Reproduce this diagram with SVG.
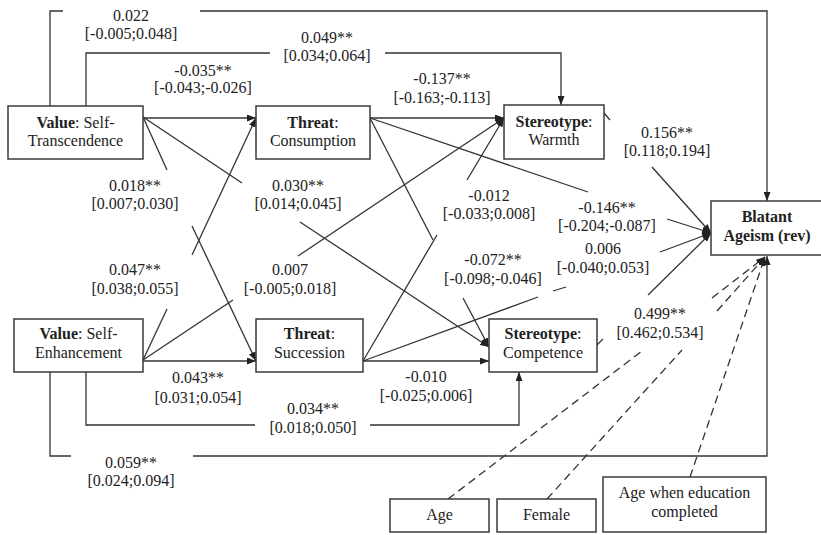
<svg xmlns="http://www.w3.org/2000/svg" width="821" height="535" viewBox="0 0 821 535">
<style>
text{font-family:"Liberation Serif","Times New Roman",serif;font-size:16px;fill:#222;text-anchor:middle}
.b{font-weight:bold}
.box{fill:#fff;stroke:#3a3a3a;stroke-width:1.5}
.c{fill:none;stroke:#333;stroke-width:1.3}
.d{fill:none;stroke:#333;stroke-width:1.3;stroke-dasharray:8 5}
</style>
<defs>
<marker id="ah" markerUnits="userSpaceOnUse" markerWidth="9" markerHeight="7" refX="9" refY="3.5" orient="auto">
<path d="M0,0 L9,3.5 L0,7 z" fill="#222"/>
</marker>
</defs>
<rect width="821" height="535" fill="#fff"/>
<g id="connectors">
<polyline class="c" points="50,106 50,11 63,11"/>
<polyline class="c" points="200,11 767,11 767,201" marker-end="url(#ah)"/>
<polyline class="c" points="86,106 86,53 270,53"/>
<polyline class="c" points="385,53 561,53 561,105" marker-end="url(#ah)"/>
<polyline class="c" points="50,372 50,456 71,456"/>
<polyline class="c" points="193,456 767,456 767,256" marker-end="url(#ah)"/>
<polyline class="c" points="86,372 86,425 255,425"/>
<polyline class="c" points="370,425 519,425 519,372" marker-end="url(#ah)"/>
<line class="c" x1="143" y1="118" x2="256" y2="118" marker-end="url(#ah)"/>
<line class="c" x1="143" y1="117" x2="167" y2="170"/>
<line class="c" x1="192" y1="226" x2="256" y2="361" marker-end="url(#ah)"/>
<line class="c" x1="143" y1="117" x2="242" y2="183"/>
<line class="c" x1="300" y1="222" x2="489" y2="347" marker-end="url(#ah)"/>
<line class="c" x1="143" y1="361" x2="256" y2="361" marker-end="url(#ah)"/>
<line class="c" x1="143" y1="360" x2="167" y2="309"/>
<line class="c" x1="192" y1="255" x2="256" y2="118" marker-end="url(#ah)"/>
<line class="c" x1="143" y1="360" x2="233" y2="300"/>
<line class="c" x1="298" y1="256" x2="504" y2="118" marker-end="url(#ah)"/>
<line class="c" x1="370" y1="118" x2="504" y2="118" marker-end="url(#ah)"/>
<line class="c" x1="370" y1="118" x2="433" y2="240"/>
<line class="c" x1="463" y1="298" x2="489" y2="347" marker-end="url(#ah)"/>
<line class="c" x1="370" y1="118" x2="588" y2="192"/>
<line class="c" x1="667" y1="219" x2="711" y2="233" marker-end="url(#ah)"/>
<line class="c" x1="363" y1="361" x2="437" y2="235"/>
<line class="c" x1="467" y1="180" x2="504" y2="118" marker-end="url(#ah)"/>
<line class="c" x1="363" y1="361" x2="489" y2="361" marker-end="url(#ah)"/>
<line class="c" x1="363" y1="361" x2="538" y2="297"/>
<line class="c" x1="553" y1="291" x2="566" y2="287"/>
<line class="c" x1="660" y1="252" x2="711" y2="233" marker-end="url(#ah)"/>
<line class="c" x1="604" y1="113" x2="610" y2="120"/>
<line class="c" x1="652" y1="167" x2="711" y2="233" marker-end="url(#ah)"/>
<line class="c" x1="597" y1="345" x2="603" y2="339"/>
<line class="c" x1="648" y1="295" x2="711" y2="233" marker-end="url(#ah)"/>
<line class="d" x1="448" y1="499" x2="642" y2="351"/>
<line class="d" x1="712" y1="298" x2="765" y2="257" marker-end="url(#ah)"/>
<line class="d" x1="547" y1="499" x2="682" y2="350"/>
<line class="d" x1="717" y1="311" x2="765" y2="257" marker-end="url(#ah)"/>
<line class="d" x1="690" y1="477" x2="765" y2="257" marker-end="url(#ah)"/>
</g>
<g id="labels">
<text x="131" y="20.5">0.022</text><text x="131" y="38.5">[-0.005;0.048]</text>
<text x="327" y="42.5">0.049**</text><text x="327" y="60.5">[0.034;0.064]</text>
<text x="203" y="75.5">-0.035**</text><text x="203" y="92.5">[-0.043;-0.026]</text>
<text x="442" y="83.5">-0.137**</text><text x="442" y="102.5">[-0.163;-0.113]</text>
<text x="667" y="137.5">0.156**</text><text x="667" y="155.5">[0.118;0.194]</text>
<text x="135" y="190.5">0.018**</text><text x="135" y="208.5">[0.007;0.030]</text>
<text x="298" y="190.5">0.030**</text><text x="298" y="208.5">[0.014;0.045]</text>
<text x="489" y="200.5">-0.012</text><text x="489" y="218.5">[-0.033;0.008]</text>
<text x="607" y="212.5">-0.146**</text><text x="607" y="230.5">[-0.204;-0.087]</text>
<text x="603" y="253.5">0.006</text><text x="603" y="272.5">[-0.040;0.053]</text>
<text x="493" y="264.5">-0.072**</text><text x="493" y="283.5">[-0.098;-0.046]</text>
<text x="135" y="274.5">0.047**</text><text x="135" y="293.5">[0.038;0.055]</text>
<text x="290" y="274.5">0.007</text><text x="290" y="293.5">[-0.005;0.018]</text>
<text x="660" y="318.5">0.499**</text><text x="660" y="337.5">[0.462;0.534]</text>
<text x="198" y="382.5">0.043**</text><text x="198" y="402.5">[0.031;0.054]</text>
<text x="426" y="381.5">-0.010</text><text x="426" y="400.5">[-0.025;0.006]</text>
<text x="313" y="413.5">0.034**</text><text x="313" y="432.5">[0.018;0.050]</text>
<text x="131" y="467.5">0.059**</text><text x="131" y="485.5">[0.024;0.094]</text>
</g>
<g id="value-self-transcendence">
<rect class="box" x="8" y="106" width="135" height="53"/>
<text x="75.5" y="128"><tspan class="b">Value</tspan>: Self-</text>
<text x="75.5" y="146">Transcendence</text>
</g>
<g id="threat-consumption">
<rect class="box" x="256" y="106" width="114" height="53"/>
<text x="313" y="128"><tspan class="b">Threat</tspan>:</text>
<text x="313" y="146">Consumption</text>
</g>
<g id="stereotype-warmth">
<rect class="box" x="504" y="105" width="100" height="54"/>
<text x="554" y="127"><tspan class="b">Stereotype</tspan>:</text>
<text x="554" y="145">Warmth</text>
</g>
<g id="blatant-ageism">
<rect class="box" x="711" y="201" width="112" height="54"/>
<text class="b" x="767" y="222">Blatant</text>
<text class="b" x="767" y="241">Ageism (rev)</text>
</g>
<g id="value-self-enhancement">
<rect class="box" x="14" y="319" width="129" height="53"/>
<text x="78.5" y="339"><tspan class="b">Value</tspan>: Self-</text>
<text x="78.5" y="358">Enhancement</text>
</g>
<g id="threat-succession">
<rect class="box" x="256" y="319" width="107" height="53"/>
<text x="309.5" y="339"><tspan class="b">Threat</tspan>:</text>
<text x="309.5" y="358">Succession</text>
</g>
<g id="stereotype-competence">
<rect class="box" x="489" y="319" width="108" height="53"/>
<text x="543" y="339"><tspan class="b">Stereotype</tspan>:</text>
<text x="543" y="358">Competence</text>
</g>
<g id="age">
<rect class="box" x="390" y="499" width="99" height="33"/>
<text x="439.5" y="520">Age</text>
</g>
<g id="female">
<rect class="box" x="497" y="499" width="99" height="33"/>
<text x="546.5" y="520">Female</text>
</g>
<g id="age-education">
<rect class="box" x="603" y="477" width="163" height="55"/>
<text x="684.5" y="498">Age when education</text>
<text x="684.5" y="517">completed</text>
</g>
</svg>
